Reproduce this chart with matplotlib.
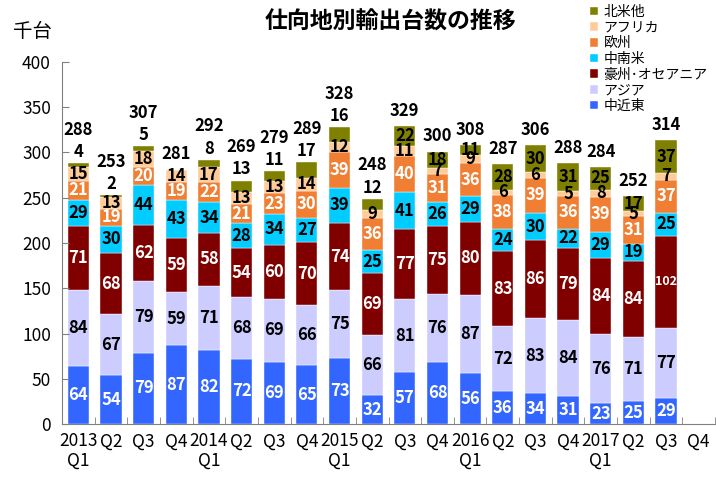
import matplotlib
matplotlib.use("Agg")
import matplotlib.pyplot as plt
import numpy as np

plt.rcParams['font.family'] = ['Noto Sans CJK JP', 'DejaVu Sans']

quarters = ["2013\nQ1", "Q2", "Q3", "Q4", "2014\nQ1", "Q2", "Q3", "Q4",
            "2015\nQ1", "Q2", "Q3", "Q4", "2016\nQ1", "Q2", "Q3", "Q4",
            "2017\nQ1", "Q2", "Q3", "Q4"]

# bottom to top, 2013Q1 .. 2017Q3 (2017Q4 not yet available)
middle_east = [64, 54, 79, 87, 82, 72, 69, 65, 73, 32, 57, 68, 56, 36, 34, 31, 23, 25, 29]
asia = [84, 67, 79, 59, 71, 68, 69, 66, 75, 66, 81, 76, 87, 72, 83, 84, 76, 71, 77]
oceania = [71, 68, 62, 59, 58, 54, 60, 70, 74, 69, 77, 75, 80, 83, 86, 79, 84, 84, 102]
latin_america = [29, 30, 44, 43, 34, 28, 34, 27, 39, 25, 41, 26, 29, 24, 30, 22, 29, 19, 25]
europe = [21, 19, 20, 19, 22, 21, 23, 30, 39, 36, 40, 31, 36, 38, 39, 36, 39, 31, 37]
africa = [15, 13, 18, 14, 17, 13, 13, 14, 12, 9, 11, 7, 9, 6, 6, 5, 8, 5, 7]
north_america = [4, 2, 5, 0, 8, 13, 11, 17, 16, 12, 22, 18, 11, 28, 30, 31, 25, 17, 37]
totals = [288, 253, 307, 281, 292, 269, 279, 289, 328, 248, 329, 300, 308, 287, 306, 288, 284, 252, 314]

series_names = ["中近東", "アジア", "豪州･オセアニア", "中南米", "欧州", "アフリカ", "北米他"]
series_colors = ["#3366FF", "#CCCCFF", "#800000", "#00CCFF", "#F07F33", "#FFCC99", "#808000"]
label_colors = ["white", "black", "white", "black", "white", "black", "black"]

# up to 2015Q2 the 北米他 label sits above the bar
n_outside = 10

series = [middle_east, asia, oceania, latin_america, europe, africa, north_america]

fig = plt.figure(figsize=(7.16, 4.79), dpi=100)
ax = fig.add_axes([0.0866, 0.1148, 0.912, 0.7558])

x = np.arange(len(middle_east))
bottom = np.zeros(len(x))
handles = []
for k, (vals, name, col) in enumerate(zip(series, series_names, series_colors)):
    vals = np.array(vals, dtype=float)
    b = ax.bar(x, vals, 0.65, bottom=bottom, color=col, label=name,
               edgecolor="white", linewidth=0.3)
    handles.append(b)
    for i, v in enumerate(vals):
        if v <= 0:
            continue
        if k == len(series) - 1 and i < n_outside:
            ax.annotate(f"{int(v)}", (x[i], bottom[i] + v), xytext=(0, 8),
                        textcoords="offset points", ha="center", va="center",
                        fontsize=12, fontweight="bold", color="black")
        else:
            fs = 9 if v >= 100 else 12
            ax.text(x[i], bottom[i] + v / 2, f"{int(v)}", ha="center", va="center",
                    fontsize=fs, fontweight="bold", color=label_colors[k])
    bottom += vals

for i, t in enumerate(totals):
    off = 24 if i < n_outside and north_america[i] > 0 else 11
    ax.annotate(f"{t}", (x[i], bottom[i]), xytext=(0, off),
                textcoords="offset points", ha="center", va="center",
                fontsize=12, fontweight="bold", color="black")

ax.set_xlim(-0.5, len(quarters) - 0.5)
ax.set_ylim(0, 400)
ax.set_yticks(range(0, 401, 50))
ax.set_xticks(np.arange(len(quarters)))
ax.set_xticklabels(quarters, fontsize=12.5, linespacing=1.1)
ax.set_xticks(np.arange(len(quarters)) + 0.5, minor=True)
ax.tick_params(axis="x", which="major", length=0, pad=6)
ax.tick_params(axis="x", which="minor", direction="in", length=5, color="#808080")
ax.tick_params(axis="y", direction="in", length=5, color="#808080", labelsize=12.5, pad=8)
for s in ["top", "right"]:
    ax.spines[s].set_visible(False)
for s in ["left", "bottom"]:
    ax.spines[s].set_color("#808080")

fig.text(0.545, 0.953, "仕向地別輸出台数の推移", ha="center", va="center",
         fontsize=16.5, fontweight="bold")
fig.text(0.018, 0.935, "千台", ha="left", va="center", fontsize=14)

fig.legend(handles[::-1], series_names[::-1], loc="upper left",
           bbox_to_anchor=(0.81, 1.01), frameon=False, fontsize=10,
           handlelength=0.6, handleheight=0.6, handletextpad=0.4,
           labelspacing=0.12, borderpad=0.2)

fig.savefig("out.png", dpi=100)
